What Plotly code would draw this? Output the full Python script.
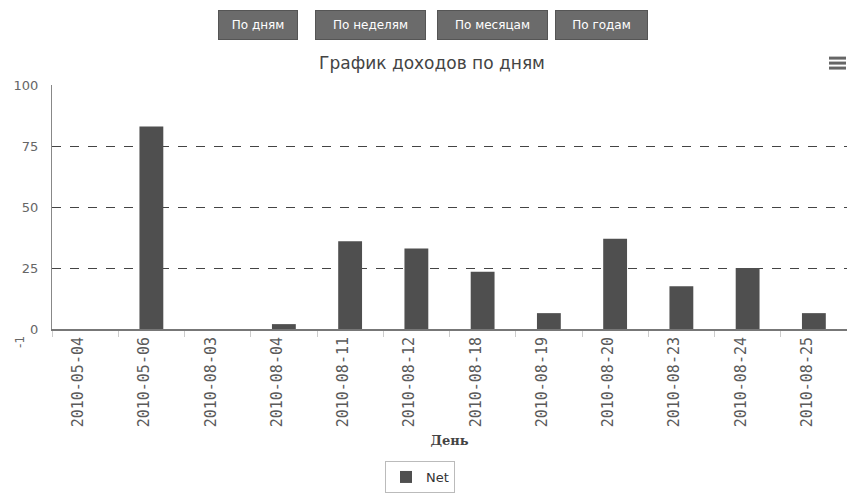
import plotly.graph_objects as go

days = ["2010-05-04", "2010-05-06", "2010-08-03", "2010-08-04", "2010-08-11", "2010-08-12",
        "2010-08-18", "2010-08-19", "2010-08-20", "2010-08-23", "2010-08-24", "2010-08-25"]
net = [0, 83, 0, 2, 36, 33, 23.5, 6.5, 37, 17.5, 25, 6.5]
y_ticks = [0, 25, 50, 75, 100]
buttons = ["По дням", "По неделям", "По месяцам", "По годам"]

W, H = 847, 493
L, R, T, B = 52, 0, 85, 163
PW, PH = W - L - R, H - T - B

def px(x):
    return (x - L) / PW

def py(y):
    return (H - B - y) / PH

fig = go.Figure()
fig.add_trace(go.Bar(
    x=days, y=net, name="Net", width=0.36,
    marker=dict(color="#4f4f4f", line=dict(width=0)),
))

# buttons
btn_pos = [(218, 298), (315, 426), (437, 548), (555, 648)]
annotations = []
for (x0, x1), label in zip(btn_pos, buttons):
    annotations.append(dict(
        text=label, x=px((x0 + x1) / 2), y=py(25), xref="paper", yref="paper",
        xanchor="center", yanchor="middle", showarrow=False,
        width=x1 - x0 - 4, height=26, bgcolor="#6b6b6b", bordercolor="#555555",
        borderwidth=1, borderpad=1,
        font=dict(family="DejaVu Sans", size=12, color="#ffffff"),
    ))
annotations.append(dict(
    text="-1", x=px(11), y=py(351), xref="paper", yref="paper", textangle=-90,
    showarrow=False, font=dict(family="DejaVu Sans", size=12, color="#666666"),
))

shapes = []
for yy in (58, 63, 68):
    shapes.append(dict(type="line", xref="paper", yref="paper",
                       x0=px(829), x1=px(846), y0=py(yy), y1=py(yy),
                       line=dict(color="#666666", width=3)))

fig.update_layout(
    width=W, height=H,
    margin=dict(l=L, r=R, t=T, b=B),
    plot_bgcolor="#ffffff", paper_bgcolor="#ffffff",
    title=dict(text="График доходов по дням", x=432 / W, xanchor="center",
               y=1 - 63 / H, yanchor="middle", xref="container",
               font=dict(family="DejaVu Sans", size=17, color="#444444")),
    showlegend=True,
    legend=dict(orientation="h", x=px(420), xanchor="center", y=py(463), yanchor="top",
                bordercolor="#bbbbbb", borderwidth=1, bgcolor="#ffffff",
                font=dict(family="DejaVu Sans", size=13, color="#333333"),
                itemwidth=30),
    xaxis=dict(
        type="category", range=[-0.5, 11.5],
        tickangle=-90, tickson="boundaries", ticks="outside", ticklen=6,
        tickcolor="#cccccc", showgrid=False,
        showline=True, linecolor="#777777", linewidth=2,
        tickfont=dict(family="DejaVu Sans Mono", size=15, color="#5a5a5a"),
        ticklabelshift=-7,
        title=dict(text="<b>День</b>", standoff=10,
                   font=dict(family="DejaVu Serif", size=13, color="#444444")),
    ),
    yaxis=dict(
        range=[0, 100], tickvals=y_ticks, ticktext=[str(v) for v in y_ticks],
        showgrid=True, gridcolor="#444444", griddash="dash", gridwidth=1,
        showline=True, linecolor="#888888", linewidth=1,
        zeroline=False, ticks="", ticklabelstandoff=10,
        tickfont=dict(family="DejaVu Sans", size=13, color="#666666"),
    ),
    annotations=annotations,
    shapes=shapes,
)

fig.write_html("out.html")
